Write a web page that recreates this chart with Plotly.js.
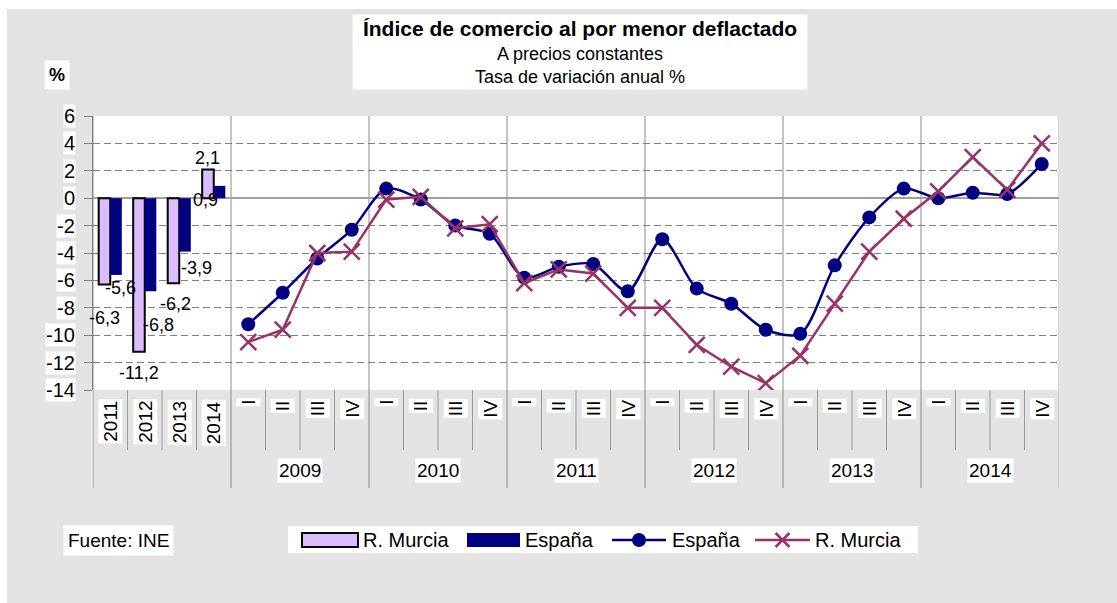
<!DOCTYPE html>
<html>
<head>
<meta charset="utf-8">
<script src="https://cdn.plot.ly/plotly-3.0.1.min.js"></script>
<style>
  html, body { margin: 0; padding: 0; background: #ffffff; }
  #chart { position: absolute; left: 7px; top: 9px; width: 1110px; height: 594px; }
</style>
</head>
<body>
<div id="chart"></div>
<script>
// ---- Data ----
const barYears = ['2011', '2012', '2013', '2014'];
const barMurcia = [-6.3, -11.2, -6.2, 2.1];
const barEspana = [-5.6, -6.8, -3.9, 0.9];

const years = ['2009', '2010', '2011', '2012', '2013', '2014'];
const quarters = ['I', 'II', 'III', 'IV'];

const lineEspana = [-9.2, -6.9, -4.4, -2.3,
                    0.7, -0.1, -2.0, -2.6,
                    -5.8, -5.0, -4.8, -6.8,
                    -3.0, -6.6, -7.7, -9.6,
                    -9.9, -4.9, -1.4, 0.7,
                    0.0, 0.4, 0.3, 2.5];
const lineMurcia = [-10.5, -9.6, -4.0, -3.9,
                    -0.1, 0.1, -2.2, -1.9,
                    -6.2, -5.2, -5.5, -8.0,
                    -8.0, -10.7, -12.3, -13.5,
                    -11.5, -7.7, -3.9, -1.5,
                    0.5, 3.0, 0.6, 4.0];

const yTicks = [6, 4, 2, 0, -2, -4, -6, -8, -10, -12, -14];

// label offsets (px) for the bar value labels, as in the original
const shiftMurcia = [[0, -33], [0, -21], [2, -21], [0, 11]];
const shiftEspana = [[4, -13], [8, -34], [11, -16], [-14, -14]];

// ---- Styles ----
const FONT = 'Liberation Sans, Arial, sans-serif';
const NAVY = '#000080';
const MAROON = '#993366';
const LAV = '#dbbdff';
const GRID = '#808080';
const BARGAP = 0.33;

// plot area geometry (page pixels) used for placing legend decorations
const PL = 93, PR = 1059, PT = 116, PB = 390;
const px2x = p => (p - PL) / (PR - PL);
const py2y = p => (PB - p) / (PB - PT);

// ---- Positions from category indices ----
const nBar = barYears.length;
const barX = barYears.map((_, i) => i);
const quarterLabels = [];
const lineX = [];
years.forEach((y, yi) => quarters.forEach((q, qi) => {
  quarterLabels.push(q);
  lineX.push(nBar + yi * quarters.length + qi);
}));
const nSlots = nBar + lineX.length;
const barOff = (1 - BARGAP) / 4;

const fmt = v => String(v).replace('.', ',');

const traces = [
  {
    type: 'bar', name: 'R. Murcia', x: barX, y: barMurcia,
    marker: { color: LAV, line: { color: '#000000', width: 2 } },
    hoverinfo: 'y'
  },
  {
    type: 'bar', name: 'España', x: barX, y: barEspana,
    marker: { color: NAVY, line: { width: 0 } },
    hoverinfo: 'y'
  },
  {
    type: 'scatter', mode: 'lines+markers', name: 'España', x: lineX, y: lineEspana,
    line: { color: NAVY, width: 2.5, shape: 'spline', smoothing: 0.8 },
    marker: { symbol: 'circle', size: 14, color: NAVY }
  },
  {
    type: 'scatter', mode: 'lines+markers', name: 'R. Murcia', x: lineX, y: lineMurcia,
    line: { color: MAROON, width: 2.5 },
    marker: { symbol: 'x-thin', size: 16, color: MAROON, line: { color: MAROON, width: 2.5 } }
  }
];

const annotations = [];
const shapes = [];

// title
annotations.push({
  xref: 'paper', yref: 'paper', x: 0.504, y: 1.372, xanchor: 'center', yanchor: 'top',
  text: '<b><span style="font-size:21px">Índice de comercio al por menor deflactado</span></b><br>A precios constantes<br>Tasa de variación anual %',
  showarrow: false, bgcolor: '#ffffff', width: 452, height: 72, borderpad: 1,
  font: { family: FONT, size: 18, color: '#000000' }
});
// % label
annotations.push({
  xref: 'paper', yref: 'paper', x: -0.037, y: 1.15, xanchor: 'center', yanchor: 'middle',
  text: '<b>%</b>', showarrow: false, bgcolor: '#ffffff', borderpad: 4,
  font: { family: FONT, size: 18, color: '#000000' }
});
// source
annotations.push({
  xref: 'paper', yref: 'paper', x: px2x(63), y: py2y(540), xanchor: 'left', yanchor: 'middle',
  text: 'Fuente: INE', showarrow: false, bgcolor: '#ffffff', borderpad: 4,
  font: { family: FONT, size: 19, color: '#000000' }
});
// y tick labels
yTicks.forEach(t => annotations.push({
  xref: 'paper', yref: 'y', x: 0, y: t, xshift: -17, xanchor: 'right', yanchor: 'middle',
  text: String(t), showarrow: false, bgcolor: '#ffffff', borderpad: 0,
  font: { family: FONT, size: 20, color: '#000000' }
}));
// rotated category labels
barYears.forEach((lab, i) => annotations.push({
  xref: 'x', yref: 'paper', x: barX[i], y: 0, yshift: -9, xanchor: 'center', yanchor: 'top',
  text: lab, textangle: -90, showarrow: false, bgcolor: '#ffffff', borderpad: 1,
  font: { family: FONT, size: 19, color: '#000000' }
}));
quarterLabels.forEach((lab, i) => annotations.push({
  xref: 'x', yref: 'paper', x: lineX[i], y: 0, yshift: -8, xanchor: 'center', yanchor: 'top',
  text: lab, textangle: -90, showarrow: false, bgcolor: '#ffffff', borderpad: 1,
  font: { family: FONT, size: 19, color: '#000000' }
}));
// year group labels
years.forEach((lab, yi) => annotations.push({
  xref: 'x', yref: 'paper', x: nBar + yi * quarters.length + (quarters.length - 1) / 2,
  y: -0.292, xanchor: 'center', yanchor: 'middle',
  text: lab, showarrow: false, bgcolor: '#ffffff', borderpad: 1,
  font: { family: FONT, size: 19, color: '#000000' }
}));
// bar value labels
barMurcia.forEach((v, i) => annotations.push({
  xref: 'x', yref: 'y', x: barX[i] - barOff, y: v,
  xshift: shiftMurcia[i][0], yshift: shiftMurcia[i][1], xanchor: 'center', yanchor: 'middle',
  text: fmt(v), showarrow: false, font: { family: FONT, size: 18, color: '#000000' }
}));
barEspana.forEach((v, i) => annotations.push({
  xref: 'x', yref: 'y', x: barX[i] + barOff, y: v,
  xshift: shiftEspana[i][0], yshift: shiftEspana[i][1], xanchor: 'center', yanchor: 'middle',
  text: fmt(v), showarrow: false, font: { family: FONT, size: 18, color: '#000000' }
}));

// separator shapes
const groupEdges = [-0.5, nBar - 0.5];
years.forEach((_, yi) => groupEdges.push(nBar + (yi + 1) * quarters.length - 0.5));
for (let b = 0.5; b < nSlots - 0.5; b += 1) {
  if (groupEdges.indexOf(b) === -1) {
    shapes.push({ type: 'line', xref: 'x', yref: 'paper', x0: b, x1: b, y0: 0, y1: -0.219,
                  line: { color: '#9a9a9a', width: 1 } });
  }
}
groupEdges.forEach(b => {
  shapes.push({ type: 'line', xref: 'x', yref: 'paper', x0: b, x1: b, y0: 1, y1: -0.358,
                line: { color: b === nSlots - 0.5 ? '#b0b0b0' : '#8a8a8a', width: 1 }, layer: 'below' });
});

// ---- Legend (drawn like the original: wide swatches) ----
const LY = 540;
shapes.push({ type: 'rect', xref: 'paper', yref: 'paper',
  x0: px2x(288), x1: px2x(918), y0: py2y(553), y1: py2y(526),
  fillcolor: '#ffffff', line: { width: 0 } });
const legendItems = [
  { trace: traces[0], kind: 'bar', sx0: 302, sx1: 358, tx: 361 },
  { trace: traces[1], kind: 'bar', sx0: 467, sx1: 520, tx: 523 },
  { trace: traces[2], kind: 'line', sx0: 612, sx1: 666, tx: 670 },
  { trace: traces[3], kind: 'line', sx0: 755, sx1: 810, tx: 813 }
];
legendItems.forEach(it => {
  const t = it.trace;
  if (it.kind === 'bar') {
    shapes.push({ type: 'rect', xref: 'paper', yref: 'paper',
      x0: px2x(it.sx0), x1: px2x(it.sx1), y0: py2y(LY + 7), y1: py2y(LY - 7),
      fillcolor: t.marker.color,
      line: { color: t.marker.line.width ? t.marker.line.color : t.marker.color,
              width: t.marker.line.width || 0 } });
  } else {
    shapes.push({ type: 'line', xref: 'paper', yref: 'paper',
      x0: px2x(it.sx0), x1: px2x(it.sx1), y0: py2y(LY), y1: py2y(LY),
      line: { color: t.line.color, width: t.line.width } });
    const cx = px2x((it.sx0 + it.sx1) / 2), cy = py2y(LY);
    if (t.marker.symbol === 'circle') {
      shapes.push({ type: 'circle', xref: 'paper', yref: 'paper',
        xsizemode: 'pixel', ysizemode: 'pixel', xanchor: cx, yanchor: cy,
        x0: -7, x1: 7, y0: -7, y1: 7, fillcolor: t.marker.color, line: { width: 0 } });
    } else {
      [[-7, -7, 7, 7], [-7, 7, 7, -7]].forEach(d => shapes.push({ type: 'line',
        xref: 'paper', yref: 'paper', xsizemode: 'pixel', ysizemode: 'pixel',
        xanchor: cx, yanchor: cy, x0: d[0], y0: d[1], x1: d[2], y1: d[3],
        line: { color: t.marker.line.color, width: t.marker.line.width } }));
    }
  }
  annotations.push({ xref: 'paper', yref: 'paper', x: px2x(it.tx), y: py2y(LY),
    xanchor: 'left', yanchor: 'middle', text: t.name, showarrow: false,
    font: { family: FONT, size: 20, color: '#000000' } });
});

const layout = {
  width: 1110, height: 594,
  paper_bgcolor: '#e3e3e3', plot_bgcolor: '#ffffff',
  margin: { l: 86, r: 58, t: 107, b: 213, pad: 0 },
  font: { family: FONT, size: 18, color: '#000000' },
  barmode: 'group', bargap: BARGAP, bargroupgap: 0,
  showlegend: false,
  xaxis: {
    range: [-0.5, nSlots - 0.5], showticklabels: false, showgrid: false, zeroline: false,
    showline: false, ticks: '', fixedrange: true
  },
  yaxis: {
    range: [-14, 6], dtick: 2, tick0: 0, showticklabels: false,
    showgrid: true, gridcolor: GRID, gridwidth: 1, griddash: '7px,4px',
    zeroline: true, zerolinecolor: '#a0a0a0', zerolinewidth: 2,
    showline: true, linecolor: '#808080', linewidth: 1,
    ticks: 'outside', ticklen: 8, tickcolor: '#808080', fixedrange: true
  },
  annotations: annotations,
  shapes: shapes
};

Plotly.newPlot('chart', traces, layout, { displayModeBar: false, staticPlot: true });
</script>
</body>
</html>
